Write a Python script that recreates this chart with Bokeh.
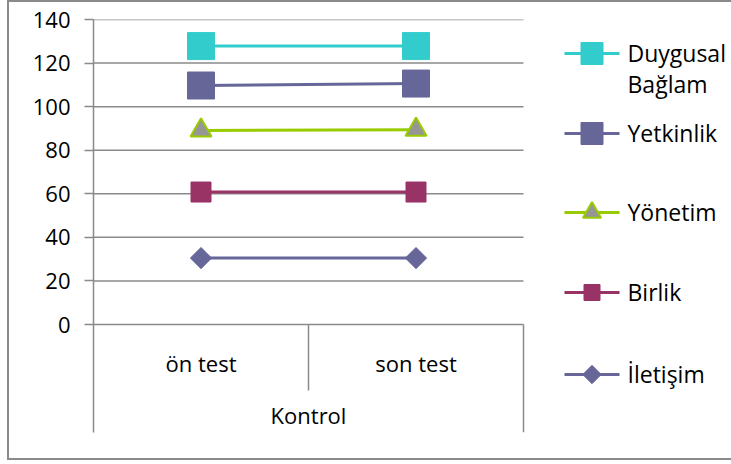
from bokeh.plotting import figure
from bokeh.models import FixedTicker, Range1d
from bokeh.core.properties import value
from bokeh.embed import file_html
from bokeh.resources import INLINE

# ---- data -------------------------------------------------------------
phases = ["ön test", "son test"]
group = "Kontrol"
y_ticks = [0, 20, 40, 60, 80, 100, 120, 140]

duygusal_baglam = [127.8, 127.8]
yetkinlik = [109.7, 110.6]
yonetim = [89.1, 89.4]
birlik = [60.8, 60.8]
iletisim = [30.5, 30.5]

# ---- layout (page pixels) ---------------------------------------------
PAGE_W = 731
MARGIN_LEFT = 7                    # space left of the chart border
BORDER = 2
OX, OY = MARGIN_LEFT + BORDER, BORDER   # where the figure canvas starts
BOX_BOTTOM = 460                   # outer edge of the bottom border line
FRAME_LEFT, FRAME_TOP, FRAME_BOTTOM = 93, 19, 432
ZERO_PX = 324                      # pixel row of the value 0
CAT_PX = 215.0                     # width of one category slot
TEXT_SHIFT = 9.5                   # baseline correction for svg text

W = PAGE_W - MARGIN_LEFT           # border-box size of the figure element
H = BOX_BOTTOM
px_per_unit = (ZERO_PX - FRAME_TOP) / max(y_ticks)
y_start = -(FRAME_BOTTOM - ZERO_PX) / px_per_unit
x_end = (OX + W - FRAME_LEFT) / CAT_PX


def dx(px):
    """page x pixel -> data x"""
    return (px - FRAME_LEFT) / CAT_PX


def dy(py):
    """page y pixel -> data y"""
    return (ZERO_PX - py) / px_per_unit


def ty(baseline_px):
    return dy(baseline_px - TEXT_SHIFT)


FONT = "Open Sans"
GRID = "#8a8a8a"

p = figure(width=W, height=H, output_backend="svg", toolbar_location=None,
           x_range=Range1d(0, x_end), y_range=Range1d(y_start, max(y_ticks)),
           x_axis_location=None,
           min_border_left=FRAME_LEFT - OX, min_border_right=0,
           min_border_top=FRAME_TOP - OY,
           min_border_bottom=OY + H - FRAME_BOTTOM)
p.title.visible = False
p.outline_line_color = None
p.xgrid.visible = False
p.ygrid.visible = False
p.background_fill_color = "white"
p.border_fill_color = "white"
p.styles = {
    "margin-left": f"{MARGIN_LEFT}px",
    "border-left": f"{BORDER}px solid {GRID}",
    "border-top": f"{BORDER}px solid {GRID}",
    "border-bottom": f"{BORDER}px solid {GRID}",
}

ax = p.yaxis[0]
ax.ticker = FixedTicker(ticks=y_ticks)
ax.axis_line_color = GRID
ax.axis_line_width = 1.5
ax.major_tick_line_color = GRID
ax.major_tick_line_width = 1.5
ax.major_tick_out = 9
ax.major_tick_in = 0
ax.minor_tick_out = 0
ax.minor_tick_in = 0
ax.major_label_text_font = FONT
ax.major_label_text_font_size = "22px"
ax.major_label_text_color = "black"
ax.major_label_standoff = 14

n = len(phases)
xs = [i + 0.5 for i in range(n)]

# horizontal value gridlines over the category slots
p.segment(x0=0, x1=n, y0=y_ticks, y1=y_ticks, line_color=GRID, line_width=1.5)

# category dividers below the value axis
p.segment(x0=[1, n], x1=[1, n], y0=[0, 0], y1=[dy(390), y_start],
          line_color=GRID, line_width=1.5)

# category labels
p.text(x=xs, y=[ty(371.7)] * n, text=phases, text_align="center",
       text_baseline="alphabetic", text_font=value(FONT),
       text_font_size="22px", text_color="black")
p.text(x=[n / 2], y=[ty(424.3)], text=[group], text_align="center",
       text_baseline="alphabetic", text_font=value(FONT),
       text_font_size="22px", text_color="black")

# (label lines, values, colour, marker, size, fill, outline, angle, legend size, legend row)
series = [
    (["Duygusal", "Bağlam"], duygusal_baglam, "#33cccc", "square", 27, "#33cccc", "#33cccc", 0, 22, 53),
    (["Yetkinlik"], yetkinlik, "#666699", "square", 27, "#666699", "#666699", 0, 22, 133),
    (["Yönetim"], yonetim, "#99cc00", "triangle", 21, "#969696", "#99cc00", 0, 18, 212),
    (["Birlik"], birlik, "#993366", "square", 20, "#993366", "#993366", 0, 16, 292),
    (["İletişim"], iletisim, "#666699", "square", 15, "#666699", "#666699", 0.785398, 13, 374),
]

LEG_X0, LEG_X1, LEG_TEXT = 564, 619, 627
for labels, vals, col, marker, size, fill, outline, angle, lsize, ly in series:
    lw = 2 if marker == "triangle" else 1
    p.line(xs, vals, line_color=col, line_width=3)
    p.scatter(xs, vals, marker=marker, size=size, fill_color=fill,
              line_color=outline, line_width=lw, angle=angle)
    # legend entry
    p.line([dx(LEG_X0), dx(LEG_X1)], [dy(ly), dy(ly)], line_color=col, line_width=3)
    p.scatter([dx((LEG_X0 + LEG_X1) / 2)], [dy(ly)], marker=marker, size=lsize,
              fill_color=fill, line_color=outline, line_width=lw, angle=angle)
    for k, lab in enumerate(labels):
        p.text(x=[dx(LEG_TEXT)], y=[ty(ly + 9.3 + 30.4 * k)], text=[lab],
               text_align="left", text_baseline="alphabetic",
               text_font=value(FONT), text_font_size="23px", text_color="black")

open("out.html", "w").write(file_html(p, INLINE))
